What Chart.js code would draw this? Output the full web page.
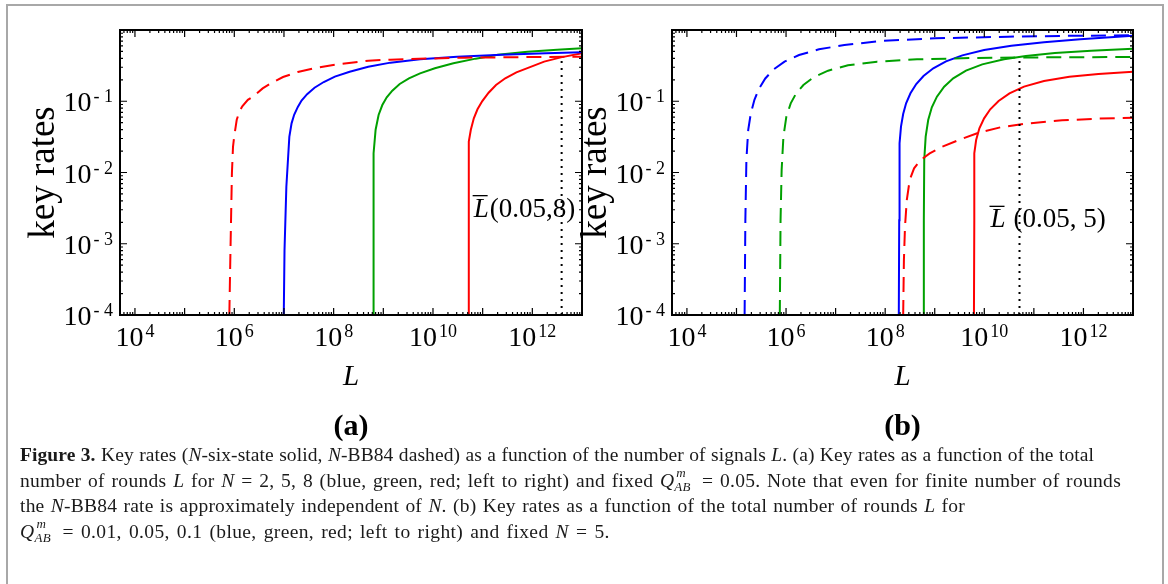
<!DOCTYPE html>
<html lang="en">
<head>
<meta charset="UTF-8" />
<title>Key rates vs. number of signals</title>
<script src="https://cdn.jsdelivr.net/npm/chart.js"></script>
<style>
  body {
    margin: 0;
    width: 1168px;
    height: 584px;
    overflow: hidden;
    position: relative;
    background: #fff;
    font-family: "Liberation Serif", "Times New Roman", serif;
  }
  #frame {
    position: absolute;
    left: 6px;
    top: 4px;
    width: 1154px;
    height: 640px;
    border: 2px solid #a8a8a8;
  }
  canvas { position: absolute; top: 0; }
  #chartA { left: 0; }
  #chartB { left: 580px; }
  #caption {
    position: absolute;
    left: 20px;
    top: 442px;
    font-size: 19.5px;
    line-height: 25px;
    white-space: nowrap;
    color: #1a1a1a;
  }
  #caption .line { display: block; width: max-content; }
  .qs {
    display: inline-block;
    position: relative;
    width: 21px;
    height: 1em;
  }
  .qs .up { position: absolute; left: 2px; top: -7px; font-size: 13px; font-style: italic; }
  .qs .dn { position: absolute; left: 0; top: 7px; font-size: 13px; font-style: italic; }
</style>
</head>
<body>
<div id="frame"></div>
<canvas id="chartA" width="590" height="460"></canvas>
<canvas id="chartB" width="588" height="460"></canvas>
<div id="caption">
  <span class="line" data-w="1074"><b>Figure 3.</b> Key rates (<i>N</i>-six-state solid, <i>N</i>-BB84 dashed) as a function of the number of signals <i>L</i>. (a) Key rates as a function of the total</span>
  <span class="line" data-w="1102">number of rounds <i>L</i> for <i>N</i> = 2, 5, 8 (blue, green, red; left to right) and fixed <i>Q</i><span class="qs"><span class="up">m</span><span class="dn">AB</span></span> = 0.05. Note that even for finite number of rounds</span>
  <span class="line" data-w="945">the <i>N</i>-BB84 rate is approximately independent of <i>N</i>. (b) Key rates as a function of the total number of rounds <i>L</i> for</span>
  <span class="line" data-w="591"><i>Q</i><span class="qs"><span class="up">m</span><span class="dn">AB</span></span> = 0.01, 0.05, 0.1 (blue, green, red; left to right) and fixed <i>N</i> = 5.</span>
</div>

<script>
  // axis ranges (both panels)
  const L_MIN = 5e3, L_MAX = 1e13;
  const R_MIN = 1e-4, R_MAX = 1;
  const xLabelExps = [4, 6, 8, 10, 12];
  const yLabelExps = [-4, -3, -2, -1];

  // curves are kept as log10(L) and log10(key rate)

  // (a) fixed Q = 0.05; N-BB84 is practically the same for every N
  const aBB84_logL = [5.90, 5.922, 5.952, 5.974, 5.997, 6.049, 6.101, 6.161, 6.273, 6.385, 6.571, 6.757, 6.981, 7.279, 7.652, 8.10, 8.70, 9.144, 9.52, 10.64, 13.0];
  const aBB84_logR = [-4, -3.13, -2.01, -1.64, -1.50, -1.26, -1.15, -1.07, -0.98, -0.93, -0.82, -0.74, -0.66, -0.59, -0.53, -0.48, -0.43, -0.416, -0.407, -0.388, -0.374];
  const aSixN2_logL = [6.996, 7.011, 7.048, 7.108, 7.153, 7.205, 7.279, 7.354, 7.466, 7.615, 7.801, 8.025, 8.323, 8.696, 9.144, 9.74, 10.486, 11.381, 12.276, 13.0];
  const aSixN2_logR = [-4, -3.09, -2.20, -1.50, -1.31, -1.19, -1.08, -0.99, -0.90, -0.81, -0.73, -0.655, -0.585, -0.515, -0.458, -0.412, -0.374, -0.346, -0.327, -0.313];
  const aSixN5_logL = [8.793, 8.80, 8.808, 8.845, 8.905, 8.98, 9.069, 9.181, 9.33, 9.516, 9.74, 10.038, 10.411, 10.859, 11.306, 11.903, 12.50, 13.0];
  const aSixN5_logR = [-4, -2.67, -1.73, -1.40, -1.193, -1.053, -0.945, -0.851, -0.758, -0.678, -0.608, -0.538, -0.468, -0.402, -0.346, -0.304, -0.276, -0.257];
  const aSixN8_logL = [10.71, 10.717, 10.725, 10.762, 10.822, 10.896, 10.993, 11.12, 11.269, 11.455, 11.679, 11.94, 12.238, 12.574, 13.0];
  const aSixN8_logR = [-4, -2.67, -1.567, -1.40, -1.24, -1.113, -0.997, -0.88, -0.772, -0.678, -0.594, -0.524, -0.444, -0.384, -0.327];
  const aMarkL = 3.89e12;      // L-bar(0.05, 8)
  const aMarkTop = 0.43;

  // (b) fixed N = 5; Q = 0.01, 0.05, 0.1
  const bBB84q1_logL = [5.164, 5.179, 5.20, 5.237, 5.289, 5.362, 5.457, 5.581, 5.75, 5.969, 6.262, 6.665, 7.177, 7.909, 9.007, 10.472, 11.936, 13.0];
  const bBB84q1_logR = [-4, -2.67, -1.82, -1.40, -1.17, -0.98, -0.82, -0.68, -0.552, -0.444, -0.351, -0.271, -0.211, -0.154, -0.117, -0.094, -0.080, -0.075];
  const bBB84q5_logL = [5.874, 5.889, 5.911, 5.947, 6.006, 6.094, 6.204, 6.35, 6.555, 6.848, 7.25, 7.836, 8.641, 9.74, 11.204, 13.0];
  const bBB84q5_logR = [-4, -2.67, -1.965, -1.497, -1.216, -1.029, -0.889, -0.772, -0.664, -0.571, -0.496, -0.444, -0.412, -0.393, -0.384, -0.379];
  const bBB84q10_logL = [8.363, 8.378, 8.40, 8.436, 8.495, 8.583, 8.715, 8.898, 9.154, 9.52, 9.886, 10.325, 10.838, 11.57, 12.302, 13.0];
  const bBB84q10_logR = [-4, -3.228, -2.76, -2.386, -2.105, -1.942, -1.825, -1.731, -1.637, -1.535, -1.441, -1.366, -1.315, -1.268, -1.244, -1.23];
  const bSixq1_logL = [8.275, 8.283, 8.29, 8.319, 8.363, 8.422, 8.51, 8.627, 8.773, 8.971, 9.227, 9.557, 9.996, 10.545, 11.204, 11.936, 13.0];
  const bSixq1_logR = [-4, -2.67, -1.59, -1.357, -1.179, -1.029, -0.889, -0.758, -0.646, -0.538, -0.44, -0.356, -0.281, -0.22, -0.173, -0.131, -0.08];
  const bSixq5_logL = [8.773, 8.78, 8.788, 8.817, 8.868, 8.941, 9.044, 9.19, 9.373, 9.63, 9.959, 10.398, 10.838, 11.423, 12.155, 13.0];
  const bSixq5_logR = [-4, -2.67, -1.825, -1.497, -1.263, -1.085, -0.936, -0.795, -0.678, -0.571, -0.482, -0.412, -0.365, -0.323, -0.29, -0.262];
  const bSixq10_logL = [9.791, 9.798, 9.798, 9.835, 9.901, 9.996, 10.12, 10.288, 10.508, 10.801, 11.204, 11.716, 12.302, 13.0];
  const bSixq10_logR = [-4, -2.67, -1.731, -1.544, -1.38, -1.24, -1.113, -0.997, -0.889, -0.795, -0.716, -0.655, -0.618, -0.585];
  const bMarkL = 5.13e10;      // L-bar(0.05, 5)
  const bMarkTop = 0.43;

  const BLUE = '#0000ff', GREEN = '#00a000', RED = '#ff0000';
  const SERIF = '"Liberation Serif", "Times New Roman", serif';

  // spread each caption line to its column width (half in letters, half in word gaps)
  document.querySelectorAll('#caption .line').forEach(el => {
    const target = +el.dataset.w;
    const text = el.textContent.replace(/\s+/g, ' ').trim();
    const gaps = text.split(' ').length - 1;
    const extra = target - el.getBoundingClientRect().width;
    el.style.letterSpacing = (extra * 0.5 / text.length).toFixed(3) + 'px';
    el.style.wordSpacing = (extra * 0.5 / gaps).toFixed(3) + 'px';
  });

  function pts(logL, logR) {
    return logL.map((l, i) => ({ x: Math.pow(10, l), y: Math.pow(10, logR[i]) }));
  }
  function solid(logL, logR, color) {
    return { data: pts(logL, logR), borderColor: color, borderWidth: 2 };
  }
  function dashed(logL, logR, color) {
    return { data: pts(logL, logR), borderColor: color, borderWidth: 2, borderDash: [15, 8] };
  }
  function dotted(l, top) {
    return { data: [{ x: l, y: R_MIN }, { x: l, y: top }], borderColor: '#000', borderWidth: 2, borderDash: [2, 5] };
  }

  // draws "10" with a raised exponent; align 'center' or 'right' about x
  function drawPow(ctx, x, baseline, exp, align) {
    const sup = exp < 0 ? '- ' + (-exp) : String(exp);
    ctx.font = '28px ' + SERIF;
    const w10 = ctx.measureText('10').width;
    ctx.font = '18px ' + SERIF;
    const wSup = ctx.measureText(sup).width + 2;
    const left = align === 'center' ? x - (w10 + wSup) / 2 : x - (w10 + wSup);
    ctx.textAlign = 'left';
    ctx.textBaseline = 'alphabetic';
    ctx.font = '28px ' + SERIF;
    ctx.fillText('10', left, baseline);
    ctx.font = '18px ' + SERIF;
    ctx.fillText(sup, left + w10 + 2, baseline - 9);
  }

  // Mathematica-like box frame with inward log ticks, labels and titles
  const framePlugin = {
    id: 'frameTicks',
    afterDatasetsDraw(chart, args, opts) {
      const ctx = chart.ctx;
      const xs = chart.scales.x, ys = chart.scales.y;
      const { left, right, top, bottom } = chart.chartArea;
      ctx.save();
      ctx.strokeStyle = '#000';
      ctx.fillStyle = '#000';

      // tick marks
      ctx.lineWidth = 1.2;
      ctx.beginPath();
      for (let k = 3; k <= 13; k++) {
        for (let m = 1; m <= 9; m++) {
          const v = m * Math.pow(10, k);
          if (v < L_MIN || v > L_MAX) continue;
          const px = xs.getPixelForValue(v);
          const len = m === 1 ? 7 : 3;
          ctx.moveTo(px, bottom); ctx.lineTo(px, bottom - len);
          ctx.moveTo(px, top); ctx.lineTo(px, top + len);
        }
      }
      for (let k = -4; k <= 0; k++) {
        for (let m = 1; m <= 9; m++) {
          const v = m * Math.pow(10, k);
          if (v < R_MIN || v > R_MAX) continue;
          const py = ys.getPixelForValue(v);
          const len = m === 1 ? 7 : 3;
          ctx.moveTo(left, py); ctx.lineTo(left + len, py);
          ctx.moveTo(right, py); ctx.lineTo(right - len, py);
        }
      }
      ctx.stroke();

      // frame
      ctx.lineWidth = 2;
      ctx.strokeRect(left, top, right - left, bottom - top);

      // tick labels
      xLabelExps.forEach(e => drawPow(ctx, xs.getPixelForValue(Math.pow(10, e)), bottom + 31, e, 'center'));
      yLabelExps.forEach(e => drawPow(ctx, left - 7, ys.getPixelForValue(Math.pow(10, e)) + 10, e, 'right'));

      // axis titles
      const cx = (left + right) / 2;
      ctx.textAlign = 'center';
      ctx.textBaseline = 'middle';
      ctx.font = 'italic 29px ' + SERIF;
      ctx.fillText('L', cx, 377);
      ctx.font = 'bold 30px ' + SERIF;
      ctx.fillText(opts.panel, cx, 427);
      ctx.save();
      ctx.translate(left - 76, (top + bottom) / 2);
      ctx.rotate(-Math.PI / 2);
      ctx.font = '37px ' + SERIF;
      ctx.fillText('key rates', 0, 0);
      ctx.restore();

      // L-bar annotation beside the dotted marker
      const mx = xs.getPixelForValue(opts.markL) + opts.textDx;
      const my = ys.getPixelForValue(opts.textR);
      ctx.textAlign = 'left';
      ctx.textBaseline = 'alphabetic';
      ctx.font = 'italic 27px ' + SERIF;
      const wL = ctx.measureText('L').width;
      ctx.fillText('L', mx, my);
      ctx.lineWidth = 1.3;
      ctx.beginPath();
      ctx.moveTo(mx - 1, my - 21);
      ctx.lineTo(mx + wL - 1, my - 21);
      ctx.stroke();
      ctx.font = '27px ' + SERIF;
      ctx.fillText(opts.markText, mx + wL + opts.gap, my);
      ctx.restore();
    }
  };

  function makeChart(id, datasets, pad, opts) {
    datasets.forEach(d => {
      d.pointRadius = 0;
      d.fill = false;
      d.tension = 0;
    });
    return new Chart(document.getElementById(id), {
      type: 'line',
      data: { datasets: datasets },
      options: {
        responsive: false,
        animation: false,
        devicePixelRatio: 1,
        layout: { padding: pad },
        scales: {
          x: { type: 'logarithmic', min: L_MIN, max: L_MAX, display: false },
          y: { type: 'logarithmic', min: R_MIN, max: R_MAX, display: false }
        },
        plugins: {
          legend: { display: false },
          tooltip: { enabled: false },
          frameTicks: opts
        }
      },
      plugins: [framePlugin]
    });
  }

  makeChart('chartA', [
    dotted(aMarkL, aMarkTop),
    dashed(aBB84_logL, aBB84_logR, RED),
    solid(aSixN2_logL, aSixN2_logR, BLUE),
    solid(aSixN5_logL, aSixN5_logR, GREEN),
    solid(aSixN8_logL, aSixN8_logR, RED)
  ], { left: 120, top: 30, right: 8, bottom: 145 },
  { panel: '(a)', markL: aMarkL, textDx: -88, textR: 2.4e-3, markText: '(0.05,8)', gap: 1 });

  makeChart('chartB', [
    dotted(bMarkL, bMarkTop),
    dashed(bBB84q1_logL, bBB84q1_logR, BLUE),
    dashed(bBB84q5_logL, bBB84q5_logR, GREEN),
    dashed(bBB84q10_logL, bBB84q10_logR, RED),
    solid(bSixq1_logL, bSixq1_logR, BLUE),
    solid(bSixq5_logL, bSixq5_logR, GREEN),
    solid(bSixq10_logL, bSixq10_logR, RED)
  ], { left: 92, top: 30, right: 35, bottom: 145 },
  { panel: '(b)', markL: bMarkL, textDx: -29, textR: 1.7e-3, markText: '(0.05, 5)', gap: 8 });
</script>
</body>
</html>
